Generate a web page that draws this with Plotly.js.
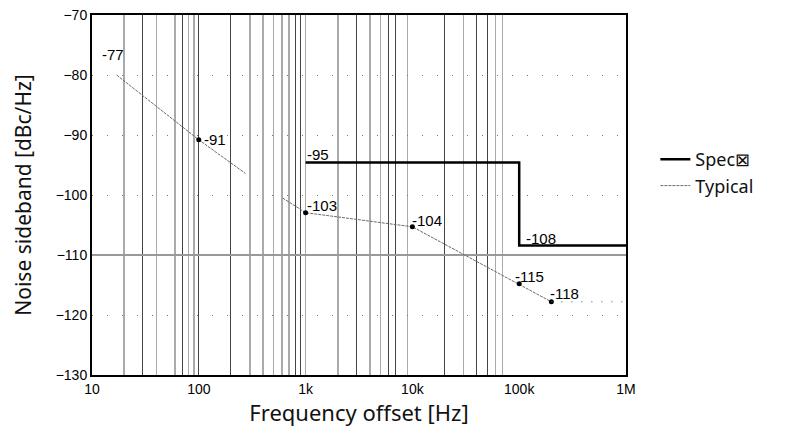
<!DOCTYPE html>
<html>
<head>
<meta charset="utf-8">
<script src="https://cdn.plot.ly/plotly-3.0.1.min.js"></script>
<style>html,body{margin:0;padding:0;background:#fff;}#chart{width:793px;height:432px;}</style>
</head>
<body>
<div id="chart"></div>
<script>
// ---- data ----
const specFreq = [1000, 100000, 100000, 1000000];
const specLevel = [-94.6, -94.6, -108.4, -108.4];

const typFreq = [17, 100, 273, null, 610, 1000, 10000, 100000, 200000];
const typLevel = [-80, -90.8, -96.4, null, -100.5, -102.95, -105.3, -114.8, -117.8];

const markFreq = [100, 1000, 10000, 100000, 200000];
const markLevel = [-90.8, -102.95, -105.3, -114.8, -117.8];

const tailFreq = [200000, 1000000];
const tailLevel = [-117.8, -117.8];

const labelText = ['-77', '-91', '-95', '-103', '-104', '-108', '-115', '-118'];
const labelFreq = [11.8, 108, 980, 980, 9460, 110600, 87900, 187000];
const labelLevel = [-76.5, -90.7, -93.3, -101.8, -104.2, -107.2, -113.6, -116.4];

const xTickVals = [10, 100, 1000, 10000, 100000, 1000000];
const xTickText = ['10', '100', '1k', '10k', '100k', '1M'];
const yTickVals = [-130, -120, -110, -100, -90, -80, -70];

const gridDark = [30, 70, 100, 200, 800, 900, 3000, 6000, 7000, 20000, 40000, 50000];
const gridLight = [20, 40, 60, 80, 90, 300, 400, 500, 600, 700, 1000, 2000, 4000, 5000, 9000, 30000, 60000, 70000];
const gridSolidBlackY = [-90];
const gridSolidGrayY = [-110];

// ---- traces ----
const traces = [
  {x: [], y: [], type: 'scatter', showlegend: false, hoverinfo: 'skip'},
  {
    name: 'Spec\u22A0', x: specFreq, y: specLevel, xaxis: 'x2', yaxis: 'y2',
    type: 'scatter', mode: 'lines', line: {color: '#000', width: 2.5}
  },
  {
    name: 'Typical', x: typFreq, y: typLevel, xaxis: 'x2', yaxis: 'y2',
    type: 'scatter', mode: 'lines', connectgaps: false,
    line: {color: '#6a6a6a', width: 1, dash: '3px,1px'}
  },
  {
    x: markFreq, y: markLevel, xaxis: 'x2', yaxis: 'y2', showlegend: false,
    type: 'scatter', mode: 'markers', marker: {color: '#000', size: 5}
  },
  {
    x: tailFreq, y: tailLevel, xaxis: 'x2', yaxis: 'y2', showlegend: false,
    type: 'scatter', mode: 'lines', line: {color: '#555', width: 1, dash: '1px,9px'}
  }
];

const annotations = labelText.map((t, i) => ({
  x: Math.log10(labelFreq[i]), y: labelLevel[i], xref: 'x2', yref: 'y2',
  text: t, showarrow: false, xanchor: 'left', yanchor: 'middle',
  font: {family: 'Liberation Sans, Arial, sans-serif', size: 15, color: '#000'}
}));

const titleFont = {family: 'Noto Sans, Open Sans, sans-serif', size: 21, color: '#111'};

const layout = {
  width: 793, height: 432,
  margin: {l: 92, r: 167, t: 15, b: 57},
  paper_bgcolor: '#fff', plot_bgcolor: '#fff',
  showlegend: true,
  legend: {
    x: 1.055, xanchor: 'left', y: 0.65, yanchor: 'top',
    bgcolor: 'rgba(0,0,0,0)', borderwidth: 0, tracegroupgap: 0,
    font: {family: 'Noto Sans, Open Sans, sans-serif', size: 18, color: '#111'}
  },
  xaxis: {
    type: 'log', range: [1, 6], fixedrange: true,
    tickmode: 'array', tickvals: xTickVals, ticktext: xTickText,
    ticks: '', showgrid: false, zeroline: false,
    showline: true, mirror: true, linecolor: '#000', linewidth: 2,
    tickfont: {family: 'Liberation Sans, Arial, sans-serif', size: 14, color: '#000'},
    minor: {tickmode: 'array', tickvals: gridLight, showgrid: true, gridcolor: '#aaa', gridwidth: 1.5, ticks: ''},
    title: {text: 'Frequency offset [Hz]', standoff: 10,
      font: {family: 'Noto Sans, Open Sans, sans-serif', size: 22, color: '#111'}}
  },
  yaxis: {
    range: [-130, -70], fixedrange: true,
    tickmode: 'array', tickvals: yTickVals, ticks: '',
    showgrid: true, gridcolor: '#777', gridwidth: 1, griddash: '1px,14px', zeroline: false,
    showline: true, mirror: true, linecolor: '#000', linewidth: 2,
    tickfont: {family: 'Liberation Sans, Arial, sans-serif', size: 14, color: '#000'},
    minor: {tickmode: 'array', tickvals: gridSolidBlackY, showgrid: true, gridcolor: '#000', gridwidth: 1, ticks: ''},
    title: {text: 'Noise sideband [dBc/Hz]', standoff: 18, font: titleFont}
  },
  xaxis2: {
    type: 'log', range: [1, 6], overlaying: 'x', fixedrange: true,
    tickmode: 'array', tickvals: gridDark, showticklabels: false, ticks: '',
    showgrid: true, gridcolor: '#444', gridwidth: 1, zeroline: false, showline: false
  },
  yaxis2: {
    range: [-130, -70], overlaying: 'y', fixedrange: true,
    tickmode: 'array', tickvals: gridSolidGrayY, showticklabels: false, ticks: '',
    showgrid: true, gridcolor: '#999', gridwidth: 2, zeroline: false, showline: false
  },
  annotations: annotations
};

Plotly.newPlot('chart', traces, layout, {staticPlot: true, displayModeBar: false});
</script>
</body>
</html>
